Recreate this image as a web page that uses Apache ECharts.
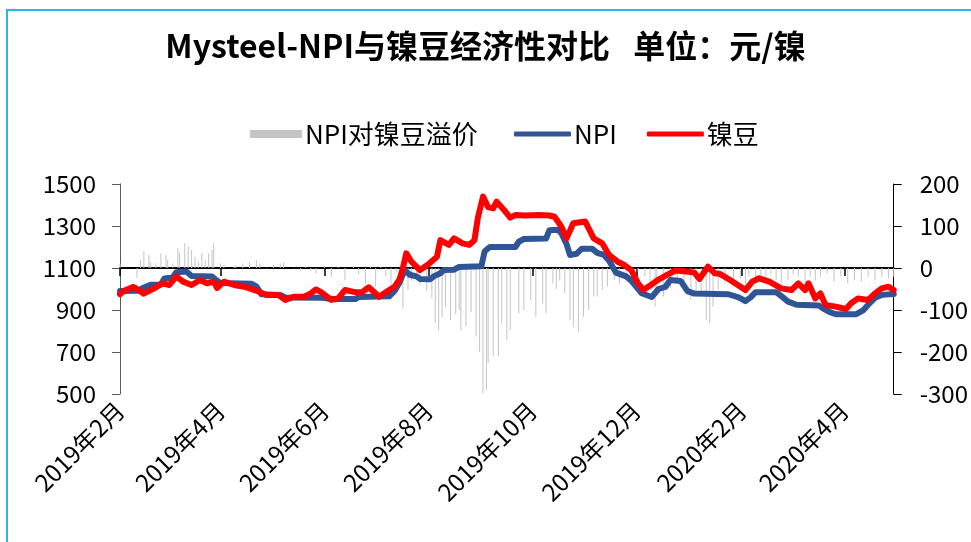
<!DOCTYPE html>
<html><head><meta charset="utf-8">
<script src="https://cdn.jsdelivr.net/npm/echarts@6/dist/echarts.min.js"></script>
<style>html,body{margin:0;padding:0;background:#fff}#c{width:971px;height:542px}</style>
</head><body><div id="c"></div>
<script>
// ---- data ----
const npiDates = ['2019-02-01','2019-02-11','2019-02-14','2019-02-19','2019-02-25','2019-02-27','2019-03-04','2019-03-06','2019-03-12','2019-03-15','2019-03-27','2019-03-29','2019-04-01','2019-04-19','2019-04-22','2019-04-25','2019-05-06','2019-05-09','2019-05-31','2019-06-05','2019-06-19','2019-06-21','2019-07-09','2019-07-12','2019-07-15','2019-07-18','2019-07-21','2019-07-25','2019-07-27','2019-08-02','2019-08-04','2019-08-08','2019-08-10','2019-08-16','2019-08-19','2019-09-01','2019-09-03','2019-09-06','2019-09-21','2019-09-23','2019-09-26','2019-10-09','2019-10-11','2019-10-16','2019-10-18','2019-10-21','2019-10-23','2019-10-27','2019-10-30','2019-11-05','2019-11-08','2019-11-12','2019-11-15','2019-11-19','2019-11-25','2019-11-28','2019-12-01','2019-12-04','2019-12-10','2019-12-14','2019-12-18','2019-12-21','2019-12-27','2019-12-31','2020-01-04','2020-01-24','2020-01-30','2020-02-03','2020-02-06','2020-02-09','2020-02-21','2020-02-25','2020-02-28','2020-03-04','2020-03-17','2020-03-20','2020-03-24','2020-03-27','2020-04-08','2020-04-12','2020-04-15','2020-04-19','2020-04-23','2020-04-30'];
const npiValues = [990,992,1003,1020,1022,1050,1055,1080,1083,1062,1060,1045,1028,1025,1012,975,972,960,958,952,952,962,965,990,1030,1090,1068,1060,1048,1046,1060,1075,1090,1092,1105,1108,1180,1200,1200,1225,1238,1240,1280,1282,1265,1215,1162,1168,1192,1192,1172,1162,1135,1078,1060,1040,1010,980,962,1000,1010,1043,1038,990,978,975,960,942,960,985,985,960,940,925,922,905,888,880,880,898,925,958,972,976];

const beanDates = ['2019-02-01','2019-02-03','2019-02-09','2019-02-15','2019-02-21','2019-02-26','2019-03-02','2019-03-06','2019-03-10','2019-03-15','2019-03-20','2019-03-24','2019-03-28','2019-03-30','2019-04-03','2019-04-09','2019-04-15','2019-04-21','2019-04-28','2019-05-05','2019-05-09','2019-05-14','2019-05-20','2019-05-24','2019-05-27','2019-05-30','2019-06-05','2019-06-09','2019-06-13','2019-06-19','2019-06-23','2019-06-27','2019-07-03','2019-07-09','2019-07-12','2019-07-15','2019-07-17','2019-07-19','2019-07-22','2019-07-27','2019-08-01','2019-08-06','2019-08-08','2019-08-13','2019-08-16','2019-08-21','2019-08-25','2019-08-28','2019-08-30','2019-09-02','2019-09-05','2019-09-08','2019-09-10','2019-09-15','2019-09-18','2019-09-21','2019-09-27','2019-10-05','2019-10-11','2019-10-14','2019-10-18','2019-10-21','2019-10-25','2019-11-01','2019-11-06','2019-11-11','2019-11-15','2019-11-20','2019-11-24','2019-11-28','2019-12-02','2019-12-05','2019-12-10','2019-12-14','2019-12-19','2019-12-24','2020-01-01','2020-01-04','2020-01-07','2020-01-12','2020-01-16','2020-01-19','2020-01-25','2020-02-03','2020-02-07','2020-02-11','2020-02-17','2020-02-24','2020-03-01','2020-03-05','2020-03-09','2020-03-11','2020-03-15','2020-03-18','2020-03-21','2020-03-27','2020-04-02','2020-04-05','2020-04-09','2020-04-15','2020-04-19','2020-04-23','2020-04-27','2020-04-30'];
const beanValues = [975,990,1010,978,1003,1027,1019,1060,1035,1019,1043,1027,1035,1005,1035,1019,1011,995,971,971,948,963,963,979,998,985,948,955,995,985,985,1008,963,995,1010,1045,1100,1170,1130,1090,1118,1154,1233,1210,1241,1217,1210,1233,1340,1440,1390,1384,1416,1370,1340,1352,1350,1352,1350,1344,1297,1241,1313,1321,1241,1217,1162,1130,1114,1090,1027,995,1022,1045,1067,1088,1082,1078,1048,1106,1075,1072,1043,995,1035,1051,1035,1003,995,1027,995,1027,955,979,924,916,905,932,955,948,979,1003,1011,995];

const premiumDates = ['2019-02-01','2019-02-11','2019-02-13','2019-02-15','2019-02-18','2019-02-19','2019-02-22','2019-02-25','2019-02-28','2019-03-01','2019-03-04','2019-03-07','2019-03-08','2019-03-11','2019-03-13','2019-03-15','2019-03-17','2019-03-19','2019-03-21','2019-03-23','2019-03-25','2019-03-27','2019-03-28','2019-04-01','2019-04-03','2019-04-09','2019-04-10','2019-04-14','2019-04-18','2019-04-22','2019-04-24','2019-04-28','2019-05-02','2019-05-06','2019-05-08','2019-05-14','2019-05-18','2019-05-21','2019-05-24','2019-05-27','2019-06-01','2019-06-05','2019-06-09','2019-06-13','2019-06-18','2019-06-21','2019-06-25','2019-06-28','2019-07-01','2019-07-04','2019-07-07','2019-07-10','2019-07-13','2019-07-17','2019-07-20','2019-07-22','2019-07-25','2019-07-27','2019-07-31','2019-08-03','2019-08-05','2019-08-07','2019-08-09','2019-08-11','2019-08-14','2019-08-17','2019-08-19','2019-08-20','2019-08-23','2019-08-26','2019-08-29','2019-08-31','2019-09-02','2019-09-04','2019-09-05','2019-09-08','2019-09-11','2019-09-13','2019-09-16','2019-09-18','2019-09-23','2019-09-26','2019-09-30','2019-10-03','2019-10-07','2019-10-09','2019-10-13','2019-10-15','2019-10-17','2019-10-20','2019-10-23','2019-10-25','2019-10-28','2019-10-31','2019-11-03','2019-11-06','2019-11-08','2019-11-11','2019-11-14','2019-11-18','2019-11-21','2019-11-25','2019-11-28','2019-12-02','2019-12-06','2019-12-09','2019-12-12','2019-12-13','2019-12-17','2019-12-21','2019-12-25','2019-12-29','2020-01-02','2020-01-05','2020-01-08','2020-01-11','2020-01-13','2020-01-15','2020-01-18','2020-01-22','2020-01-27','2020-01-31','2020-02-03','2020-02-05','2020-02-09','2020-02-12','2020-02-15','2020-02-18','2020-02-21','2020-02-24','2020-02-28','2020-03-02','2020-03-05','2020-03-09','2020-03-12','2020-03-15','2020-03-18','2020-03-22','2020-03-26','2020-03-30','2020-04-03','2020-04-07','2020-04-11','2020-04-15','2020-04-19','2020-04-23','2020-04-27','2020-04-30'];
const premiumValues = [11,-24,19,39,31,15,11,35,31,19,11,47,35,59,51,43,27,15,35,19,35,43,59,11,7,3,7,11,15,19,11,-1,7,11,13,-1,-5,4,-6,-13,5,-21,3,-29,5,-15,-37,4,-44,3,-20,-40,-10,-96,-52,-30,-25,-40,-55,-72,-130,-148,-117,-92,-124,-110,-100,-148,-140,-105,-163,-200,-298,-290,-227,-210,-211,-132,-171,-148,-108,-100,-76,-116,-84,-108,-37,-50,-30,-60,-124,-140,-152,-116,-100,-68,-68,-52,-44,-28,-37,-21,-37,-9,-20,-44,-92,-60,-68,-48,-37,-40,-76,-60,-60,-124,-131,-92,-52,-37,-30,-25,-52,-20,-29,-20,-27,-15,-29,-37,-29,-15,-21,-44,-20,-29,-21,-13,-33,-21,-37,-29,-33,-21,-29,-21,-25,-21];

const leftTicks = {min: 500, max: 1500, interval: 200};
const rightTicks = {min: -300, max: 200, interval: 100};

// ---- category axis: every calendar day ----
const categories = [];
(function(){
  const d = new Date(Date.UTC(2019,1,1));
  const end = new Date(Date.UTC(2020,3,30));
  while (d <= end) {
    categories.push(d.toISOString().slice(0,10));
    d.setUTCDate(d.getUTCDate()+1);
  }
})();
const idx = {};
categories.forEach((c,i)=>{ idx[c]=i; });
const pairs = (ds, vs) => ds.map((d,i)=>[idx[d], vs[i]]);

const isTick = (i, v) => {
  const m = +v.slice(5,7);
  return v.slice(8,10)==='01' && m%2===0;
};
const FONT = '"Noto Sans CJK SC","Noto Sans",sans-serif';

const chart = echarts.init(document.getElementById('c'), null, {renderer:'canvas'});
chart.setOption({
  backgroundColor: '#fff',
  animation: false,
  textStyle: {fontFamily: FONT},
  title: {
    text: 'Mysteel-NPI与镍豆经济性对比 \u2002单位：元/镍',
    left: 'center', top: 25,
    textStyle: {fontSize: 32, fontWeight: 'bold', color: '#000', fontFamily: FONT}
  },
  graphic: [{
    type: 'rect', shape: {x: 7, y: 10, width: 1200, height: 800},
    style: {fill: 'none', stroke: '#2BB3EA', lineWidth: 2}, silent: true
  }],
  legend: [{
    data: ['NPI对镍豆溢价'], left: 245, top: 116,
    itemWidth: 52, itemHeight: 8, icon: 'rect', itemGap: 5,
    textStyle: {fontSize: 26, color: '#000', fontFamily: FONT, padding: [0,0,0,-2]}
  }, {
    data: ['NPI', '镍豆'], left: 509, top: 116,
    itemWidth: 57, itemHeight: 5, icon: 'roundRect', itemGap: 30,
    textStyle: {fontSize: 26, color: '#000', fontFamily: FONT, padding: [0,0,0,-2]}
  }],
  grid: {left: 120, right: 76, top: 184, bottom: 148},
  xAxis: {
    type: 'category', data: categories, boundaryGap: false,
    axisLine: {lineStyle: {color: '#000', width: 2}},
    axisTick: {interval: isTick, length: 8, lineStyle: {color: '#000', width: 1.5}},
    axisLabel: {
      interval: isTick, rotate: 45, fontSize: 24, color: '#000', margin: 12, fontFamily: FONT,
      formatter: v => (+v.slice(0,4)) + '年' + (+v.slice(5,7)) + '月'
    },
    splitLine: {show: false}
  },
  yAxis: [{
    type: 'value', min: leftTicks.min, max: leftTicks.max, interval: leftTicks.interval,
    axisLine: {show: true, lineStyle: {color: '#595959', width: 1}},
    axisTick: {show: true, length: 8, lineStyle: {color: '#595959'}},
    axisLabel: {fontSize: 24, color: '#000', margin: 24, fontFamily: FONT, formatter: v => String(v)},
    splitLine: {show: false}
  }, {
    type: 'value', min: rightTicks.min, max: rightTicks.max, interval: rightTicks.interval,
    position: 'right',
    axisLine: {show: true, lineStyle: {color: '#000', width: 1}},
    axisTick: {show: true, length: 8, lineStyle: {color: '#000'}},
    axisLabel: {fontSize: 24, color: '#000', margin: 26, fontFamily: FONT, formatter: v => String(v)},
    splitLine: {show: false}
  }],
  series: [{
    name: 'NPI对镍豆溢价', type: 'bar', yAxisIndex: 1,
    data: pairs(premiumDates, premiumValues),
    barWidth: 1, itemStyle: {color: '#C4C4C4'}
  }, {
    name: 'NPI', type: 'line', data: pairs(npiDates, npiValues),
    symbol: 'none', smooth: false,
    lineStyle: {color: '#2F5597', width: 6, join: 'round', cap: 'round'},
    itemStyle: {color: '#2F5597'}
  }, {
    name: '镍豆', type: 'line', data: pairs(beanDates, beanValues),
    symbol: 'none', smooth: false,
    lineStyle: {color: '#FF0000', width: 6, join: 'round', cap: 'round'},
    itemStyle: {color: '#FF0000'}
  }]
});
</script>
</body></html>
